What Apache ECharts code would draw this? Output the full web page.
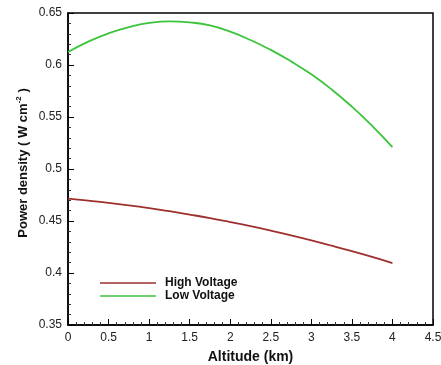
<!DOCTYPE html>
<html>
<head>
<meta charset="utf-8">
<script src="https://cdn.jsdelivr.net/npm/echarts@6/dist/echarts.min.js"></script>
<style>html,body{margin:0;padding:0;background:#fff;}#c{width:441px;height:365px;}</style>
</head>
<body>
<div id="c"></div>
<script>
const altitude = [0, 0.25, 0.5, 0.75, 1.0, 1.25, 1.5, 1.75, 2.0, 2.25, 2.5, 2.75, 3.0, 3.25, 3.5, 3.75, 4.0];
const highVoltage = [0.4715, 0.4696, 0.4675, 0.4651, 0.4624, 0.4594, 0.4562, 0.4528, 0.4490, 0.4450, 0.4407, 0.4362, 0.4314, 0.4263, 0.4210, 0.4154, 0.4095];
const lowVoltage = [0.6125, 0.6225, 0.6305, 0.6365, 0.6405, 0.6420, 0.6410, 0.6380, 0.6320, 0.6240, 0.6145, 0.6035, 0.5910, 0.5765, 0.5600, 0.5415, 0.5210];
const seriesNames = ['High Voltage', 'Low Voltage'];
const xTitle = 'Altitude (km)';
const yTitle = 'Power density ( W cm{sup|-2} )';

const FONT = '"Liberation Sans", Arial, sans-serif';
const chart = echarts.init(document.getElementById('c'));
chart.setOption({
  animation: false,
  backgroundColor: '#fff',
  grid: { left: 68, right: 8, top: 13, bottom: 40, containLabel: false, outerBoundsMode: 'none',
    show: true, borderColor: '#000', borderWidth: 1.5, backgroundColor: 'transparent' },
  legend: {
    orient: 'vertical', left: 95, top: 272, itemWidth: 56, itemHeight: 10, itemGap: 1,
    icon: 'path://M0,4.2 L56,4.2 L56,5.8 L0,5.8 Z',
    textStyle: { fontFamily: FONT, fontSize: 12, fontWeight: 'bold', color: '#111', padding: [0, 0, 0, 4] },
    data: seriesNames
  },
  xAxis: {
    type: 'value', min: 0, max: 4.5, interval: 0.5,
    name: xTitle, nameLocation: 'middle', nameGap: 25, nameMoveOverlap: false,
    nameTextStyle: { fontFamily: FONT, fontSize: 14, fontWeight: 'bold', color: '#111' },
    axisLine: { show: true, lineStyle: { color: '#000', width: 1.5 } },
    axisTick: { show: true, inside: true, length: 6, lineStyle: { color: '#000', width: 1 } },
    minorTick: { show: true, splitNumber: 5, length: 3, lineStyle: { color: '#333', width: 1 } },
    axisLabel: { fontFamily: FONT, fontSize: 12, color: '#222', margin: 7 },
    splitLine: { show: false }
  },
  yAxis: {
    type: 'value', min: 0.35, max: 0.65, interval: 0.05,
    name: yTitle, nameLocation: 'middle', nameGap: 37, nameMoveOverlap: false,
    nameTextStyle: { fontFamily: FONT, fontSize: 13, fontWeight: 'bold', color: '#111', padding: [0, 0, 0, 12],
      rich: { sup: { fontFamily: FONT, fontSize: 8, fontWeight: 'bold', color: '#111', verticalAlign: 'top', padding: [0, 0, 8, 0] } } },
    axisLine: { show: true, lineStyle: { color: '#000', width: 1.5 } },
    axisTick: { show: true, inside: true, length: 6, lineStyle: { color: '#000', width: 1 } },
    minorTick: { show: true, splitNumber: 5, length: 3, lineStyle: { color: '#333', width: 1 } },
    axisLabel: { fontFamily: FONT, fontSize: 12, color: '#222', margin: 6 },
    splitLine: { show: false }
  },
  series: [
    { name: seriesNames[0], type: 'line', smooth: true, symbol: 'none',
      data: altitude.map((x, i) => [x, highVoltage[i]]),
      lineStyle: { color: '#9e302e', width: 1.8 }, itemStyle: { color: '#9e302e' } },
    { name: seriesNames[1], type: 'line', smooth: true, symbol: 'none',
      data: altitude.map((x, i) => [x, lowVoltage[i]]),
      lineStyle: { color: '#3cc43c', width: 1.8 }, itemStyle: { color: '#3cc43c' } }
  ]
});
</script>
</body>
</html>
